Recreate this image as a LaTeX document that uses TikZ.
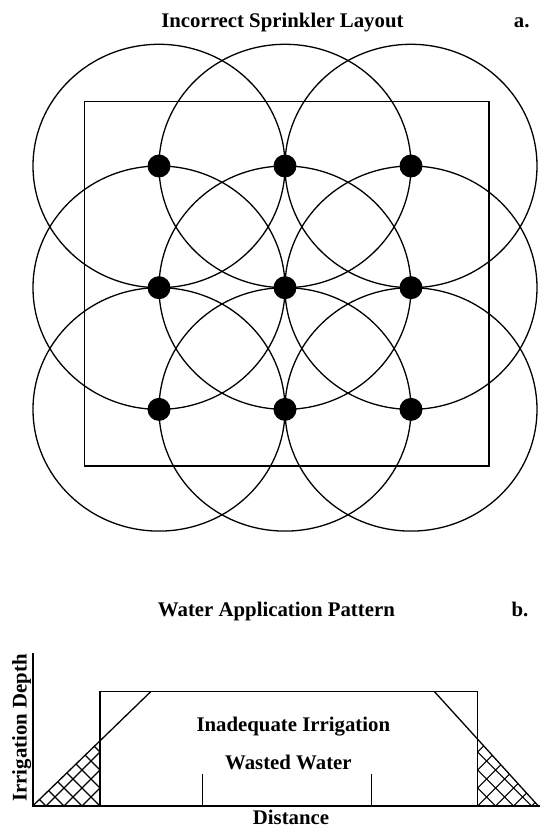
\documentclass[tikz,border=0pt]{standalone}
\usepackage{fontspec}
\setmainfont{Liberation Serif}
\begin{document}
\begin{tikzpicture}[x=1pt, y=1pt,
    lettering/.style={font=\fontsize{20.8}{24}\selectfont\bfseries, inner sep=0, anchor=base},
    ring/.style={line width=1.3pt},
    head/.style={circle, fill=black, inner sep=0, minimum size=23pt},
    frame/.style={line width=1.5pt},
    hatch/.style={line width=1.1pt}]
  \useasboundingbox (0,0) rectangle (540,828);
  \def\dx{126}
  \def\dy{121.7}
  \def\cx{285}
  \def\cy{540.3}
  \def\hs{18}
  % sprinkler heads and their throw
  \foreach \i in {1,2,3} {
    \foreach \j in {1,2,3} {
      \coordinate (spot\i\j) at (\cx+\i*\dx-2*\dx, \cy+2*\dy-\j*\dy);
      \draw[ring] (spot\i\j) ellipse [x radius=\dx, y radius=\dy];
    }
  }
  \draw[frame] (84.3,362) rectangle (489,726.3);
  \foreach \i in {1,2,3}
    \foreach \j in {1,2,3}
      \node[head] (head\i\j) at (spot\i\j) {};
  \node[lettering] (titlea) at (282.4,800) {Incorrect Sprinkler Layout};
  \node[lettering] (taga) at (521.7,800) {a.};
  % application pattern
  \coordinate (O) at (32.7,22);
  \coordinate (ytop) at (32.7,174.7);
  \coordinate (xend) at (540,22);
  \draw[frame] (100,22) rectangle (477.7,136.3);
  \draw[ring] (O) -- (150.7,136.3);
  \draw[ring] (434.5,136.3) -- (538.3,22);
  \draw[ring] (202.3,22) -- (202.3,53.7);
  \draw[ring] (371.3,22) -- (371.3,53.7);
  \begin{scope}
    \clip (O) -- (100,87.2) -- (100,22) -- cycle;
    \foreach \k in {-6,...,6}
      \draw[hatch] (100+\k*\hs-80,22-80) -- ++(160,160)
                   (100+\k*\hs+80,22-80) -- ++(-160,160);
  \end{scope}
  \begin{scope}
    \clip (477.7,22) -- (477.7,88.7) -- (538.3,22) -- cycle;
    \foreach \k in {-6,...,6}
      \draw[hatch] (477.7+\k*\hs-80,22-80) -- ++(160,160)
                   (477.7+\k*\hs+80,22-80) -- ++(-160,160);
  \end{scope}
  \draw[line width=2pt] (ytop) -- (O) -- (xend);
  \node[lettering] (titleb) at (276.4,211.3) {Water Application Pattern};
  \node[lettering] (tagb) at (520,211.3) {b.};
  \node[lettering] (inadequate) at (293.3,96.3) {Inadequate Irrigation};
  \node[lettering] (wasted) at (288.4,58.7) {Wasted Water};
  \node[lettering] (distance) at (291,3) {Distance};
  \node[lettering, rotate=90] (depth) at (26.7,100) {Irrigation Depth};
\end{tikzpicture}
\end{document}
